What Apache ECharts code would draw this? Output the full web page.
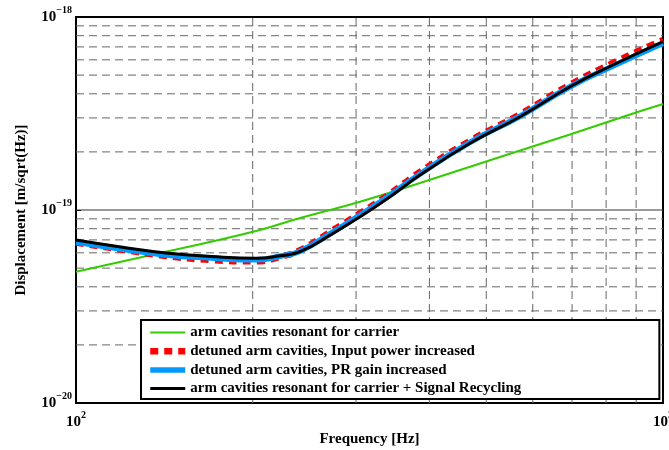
<!DOCTYPE html>
<html>
<head>
<meta charset="utf-8">
<script src="https://cdn.jsdelivr.net/npm/echarts@6/dist/echarts.min.js"></script>
<style>
html,body{margin:0;padding:0;background:#fff;}
#chart{width:669px;height:450px;}
</style>
</head>
<body>
<div id="chart"></div>
<script>
// ---- data ----
const freqs      = [100, 119.3, 142.3, 169.8, 202.6, 222.6, 240.8, 274.1, 304.7, 342.7, 385.5, 469.1, 570.7, 694.2, 821.9, 1000];
const blackVals  = [6.99e-20, 6.43e-20, 5.99e-20, 5.74e-20, 5.62e-20, 5.79e-20, 6.08e-20, 7.57e-20, 9.23e-20, 1.172e-19, 1.518e-19, 2.216e-19, 3.043e-19, 4.35e-19, 5.64e-19, 7.45e-19];
const redVals    = [6.78e-20, 6.24e-20, 5.78e-20, 5.51e-20, 5.42e-20, 5.72e-20, 6.19e-20, 7.87e-20, 9.61e-20, 1.215e-19, 1.573e-19, 2.283e-19, 3.135e-19, 4.455e-19, 5.777e-19, 7.60e-19];
const blueVals   = [6.83e-20, 6.28e-20, 5.85e-20, 5.64e-20, 5.52e-20, 5.76e-20, 6.12e-20, 7.71e-20, 9.40e-20, 1.193e-19, 1.536e-19, 2.243e-19, 3.06e-19, 4.35e-19, 5.57e-19, 7.32e-19];
const greenFreqs = [100, 142.3, 202.6, 240.8, 304.7, 385.5, 527.6, 694.2, 868.5, 1000];
const greenVals  = [4.79e-20, 6.08e-20, 7.78e-20, 9.09e-20, 1.104e-19, 1.380e-19, 1.882e-19, 2.461e-19, 3.088e-19, 3.54e-19];
const xRange     = [100, 1000];
const yRange     = [1e-20, 1e-18];
const xMinorGrid = [200, 300, 400, 500, 600, 700, 800, 900];
const yMinorGrid = [2e-20, 3e-20, 4e-20, 5e-20, 6e-20, 7e-20, 8e-20, 9e-20, 2e-19, 3e-19, 4e-19, 5e-19, 6e-19, 7e-19, 8e-19, 9e-19];
const yMajorGrid = [1e-19];
const seriesNames = [
  'arm cavities resonant for carrier',
  'detuned arm cavities, Input power increased',
  'detuned arm cavities, PR gain increased',
  'arm cavities resonant for carrier + Signal Recycling'
];

const FONT = '"Liberation Serif", "Times New Roman", serif';
const pair = (xs, ys) => xs.map((x, i) => [x, ys[i]]);
const hLines = vals => vals.flatMap(v => [[xRange[0], v], [xRange[1], v], ['-', '-']]);
const vLines = vals => vals.flatMap(v => [[v, yRange[0]], [v, yRange[1]], ['-', '-']]);
const supRich = {
  b: {fontFamily: FONT, fontWeight: 'bold', fontSize: 15, color: '#000'},
  s: {fontFamily: FONT, fontWeight: 'bold', fontSize: 10, color: '#000', padding: [0, 0, 14, 0]}
};
const expLabel = v => {
  const e = Math.round(Math.log10(v));
  return '{b|10}{s|' + (e < 0 ? '\u2212' + (-e) : e) + '}';
};

const styles = [
  {color: '#33cc00', width: 2},
  {color: '#ff0000', width: 6.5, type: [8, 6]},
  {color: '#0099ff', width: 5.5},
  {color: '#000000', width: 3}
];

const gridDash = {color: '#666', type: [8, 5], width: 1};
const gridSeries = (data, lineStyle) => ({
  type: 'line', data: data, symbol: 'none', z: 1, silent: true, connectNulls: false,
  lineStyle: lineStyle, itemStyle: {opacity: 0}, tooltip: {show: false}
});

const chart = echarts.init(document.getElementById('chart'), null, {renderer: 'canvas'});
chart.setOption({
  animation: false,
  backgroundColor: '#fff',
  grid: {left: 76, right: 6, top: 17, bottom: 47, containLabel: false, outerBoundsMode: 'none',
         show: true, borderColor: '#000', borderWidth: 2, backgroundColor: 'transparent'},
  xAxis: {
    type: 'log', logBase: 10, min: xRange[0], max: xRange[1],
    axisLine: {show: false},
    axisTick: {inside: true, length: 5, lineStyle: {color: '#000'}},
    splitLine: {show: false},
    axisLabel: {formatter: expLabel, rich: supRich, margin: 7},
    name: 'Frequency [Hz]', nameLocation: 'middle', nameGap: 29, nameMoveOverlap: false,
    nameTextStyle: {fontFamily: FONT, fontWeight: 'bold', fontSize: 15, color: '#000'}
  },
  yAxis: {
    type: 'log', logBase: 10, min: yRange[0], max: yRange[1],
    axisLine: {show: false},
    axisTick: {inside: true, length: 5, lineStyle: {color: '#000'}},
    splitLine: {show: false},
    axisLabel: {formatter: expLabel, rich: supRich, margin: 4},
    name: 'Displacement [m/sqrt(Hz)]', nameLocation: 'middle', nameGap: 47, nameMoveOverlap: false,
    nameTextStyle: {fontFamily: FONT, fontWeight: 'bold', fontSize: 15, color: '#000'}
  },
  legend: {
    data: seriesNames.map((n, i) => ({name: n, lineStyle: styles[i], itemStyle: {opacity: 0}})),
    orient: 'vertical', left: 141, top: 320,
    backgroundColor: '#fff', borderColor: '#000', borderWidth: 2,
    padding: [5, 138, 3, 6],
    itemWidth: 35, itemHeight: 14, itemGap: 3.7,
    itemStyle: {opacity: 0},
    textStyle: {fontFamily: FONT, fontWeight: 'bold', fontSize: 15, color: '#000'},
    selectedMode: false
  },
  series: [
    gridSeries(vLines(xMinorGrid), gridDash),
    gridSeries(hLines(yMinorGrid), gridDash),
    gridSeries(hLines(yMajorGrid), {color: '#333', width: 1, type: 'solid'}),
    {
      name: seriesNames[0], type: 'line', data: pair(greenFreqs, greenVals), symbol: 'none', smooth: 0.5, z: 3,
      lineStyle: styles[0], itemStyle: {color: styles[0].color}
    },
    {
      name: seriesNames[1], type: 'line', data: pair(freqs, redVals), symbol: 'none', smooth: 0.5, z: 4,
      lineStyle: styles[1], itemStyle: {color: styles[1].color}
    },
    {
      name: seriesNames[2], type: 'line', data: pair(freqs, blueVals), symbol: 'none', smooth: 0.5, z: 5,
      lineStyle: styles[2], itemStyle: {color: styles[2].color}
    },
    {
      name: seriesNames[3], type: 'line', data: pair(freqs, blackVals), symbol: 'none', smooth: 0.5, z: 6,
      lineStyle: styles[3], itemStyle: {color: styles[3].color}
    }
  ]
});
</script>
</body>
</html>
